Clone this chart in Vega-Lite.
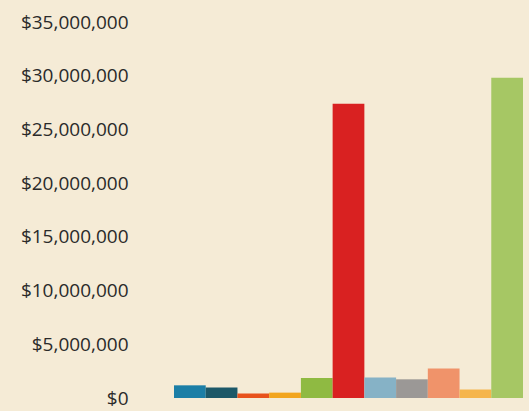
{
  "$schema": "https://vega.github.io/schema/vega-lite/v6.json",
  "autosize": {"type": "none"},
  "padding": {"left": 174, "top": 22, "right": 6, "bottom": 13},
  "width": 349,
  "height": 376,
  "background": "#f5ebd6",
  "config": {"view": {"stroke": null}},
  "data": {"values": [
    {"cat": "A", "value": 1180000, "color": "#1b7ea6"},
    {"cat": "B", "value": 970000, "color": "#1c5868"},
    {"cat": "C", "value": 410000, "color": "#e8521c"},
    {"cat": "D", "value": 500000, "color": "#f2a51e"},
    {"cat": "E", "value": 1860000, "color": "#8fba42"},
    {"cat": "F", "value": 27400000, "color": "#d92121"},
    {"cat": "G", "value": 1900000, "color": "#86b2c6"},
    {"cat": "H", "value": 1740000, "color": "#9b9896"},
    {"cat": "I", "value": 2740000, "color": "#f0936a"},
    {"cat": "J", "value": 780000, "color": "#f5b54c"},
    {"cat": "K", "value": 29800000, "color": "#a6c764"}
  ]},
  "mark": {"type": "bar"},
  "encoding": {
    "x": {"field": "cat", "type": "nominal", "scale": {"paddingInner": 0, "paddingOuter": 0}, "axis": null},
    "y": {
      "field": "value", "type": "quantitative",
      "scale": {"domain": [0, 35000000], "nice": false},
      "axis": {
        "values": [0, 5000000, 10000000, 15000000, 20000000, 25000000, 30000000, 35000000],
        "format": "$,.0f", "title": null, "grid": false, "domain": false, "ticks": false,
        "labelPadding": 46, "labelFont": "Open Sans", "labelFontSize": 19, "labelColor": "#2a2a2a"
      }
    },
    "color": {"field": "color", "type": "nominal", "scale": null}
  }
}
